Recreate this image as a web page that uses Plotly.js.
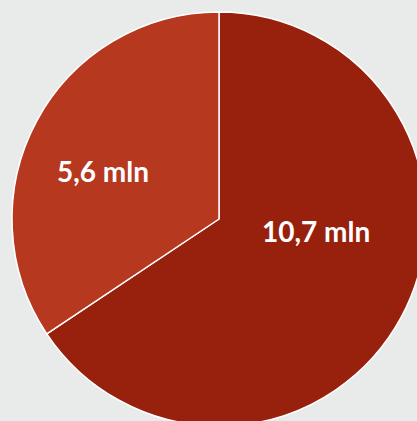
<!DOCTYPE html>
<html>
<head>
<meta charset="utf-8">
<script src="https://cdn.plot.ly/plotly-3.0.1.min.js"></script>
<style>
html, body { margin: 0; padding: 0; overflow: hidden; background: #e9ebea; }
#chart { width: 440px; height: 440px; }
</style>
</head>
<body>
<div id="chart"></div>
<script>
const categories = ["A", "B"];
const values = [10.7, 5.6];
const valueLabels = ["10,7 mln", "5,6 mln"];
const colors = ["#98210d", "#b5381f"];

const labelPos = [[0.734, 0.472], [0.220, 0.617]];
const annotations = valueLabels.map((t, i) => ({
  text: "<b>" + t + "</b>",
  x: labelPos[i][0], y: labelPos[i][1],
  xref: "paper", yref: "paper",
  xanchor: "center", yanchor: "middle",
  showarrow: false,
  font: { family: "Lato, sans-serif", size: 28, color: "#ffffff" }
}));

Plotly.newPlot("chart", [{
  type: "pie",
  labels: categories,
  values: values,
  textinfo: "none",
  sort: false,
  direction: "clockwise",
  rotation: 0,
  marker: { colors: colors, line: { color: "#ffffff", width: 1.5 } },
  hoverinfo: "none"
}], {
  width: 440,
  height: 440,
  margin: { l: 12, t: 12, r: 14, b: 14 },
  paper_bgcolor: "#e9ebea",
  plot_bgcolor: "#e9ebea",
  showlegend: false,
  annotations: annotations
}, { displayModeBar: false, staticPlot: true });
</script>
</body>
</html>
